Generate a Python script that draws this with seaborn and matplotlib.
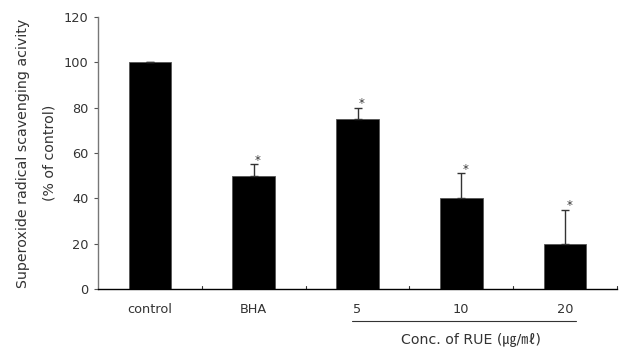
import matplotlib
matplotlib.use("Agg")
import matplotlib.pyplot as plt
import seaborn as sns
import pandas as pd

categories = ["control", "BHA", "5", "10", "20"]
values = [100, 50, 75, 40, 20]
errors = [0, 5, 5, 11, 15]
significant = [False, True, True, True, True]
yticks = [0, 20, 40, 60, 80, 100, 120]

sns.set_theme(style="white")
plt.rcParams["font.family"] = ["DejaVu Sans", "Noto Sans CJK KR"]

FS = 9.3
TC = "#333333"

df = pd.DataFrame({"cat": categories, "val": values})

fig = plt.figure(figsize=(6.21, 3.49), dpi=100)
ax = fig.add_axes([98/621, 1-289/349, (617-98)/621, (289-17)/349])

sns.barplot(data=df, x="cat", y="val", color="black", width=0.41, ax=ax,
            edgecolor="#555555", linewidth=0.6, errorbar=None)

xs = list(range(len(categories)))
ax.errorbar(xs, values, yerr=[[0]*len(errors), errors], fmt="none",
            ecolor="#333333", elinewidth=1.0, capsize=3, capthick=1.0)
for x, v, e, s in zip(xs, values, errors, significant):
    if s:
        ax.text(x + 0.04, v + e - 1.0, "*", ha="center", va="bottom",
                fontsize=8.5, color=TC)

ax.set_xlim(-0.5, len(categories) - 0.5)
ax.set_ylim(0, 120)
ax.set_yticks(yticks)
ax.set_yticklabels([str(t) for t in yticks], fontsize=FS, color=TC)
ax.set_xticks(xs)
ax.set_xticklabels(categories, fontsize=FS, color=TC)
ax.tick_params(axis="x", length=0, pad=10)
ax.tick_params(axis="y", length=3, width=0.8, color="#555555", direction="out", pad=4, left=True)
for b in [0.5, 1.5, 2.5, 3.5, 4.5]:
    ax.plot([b, b], [0, 1.5], color="#333333", lw=0.8, clip_on=False)

for side in ["top", "right"]:
    ax.spines[side].set_visible(False)
ax.spines["left"].set_color("#777777")
ax.spines["left"].set_linewidth(1.0)
ax.spines["bottom"].set_color("black")
ax.spines["bottom"].set_linewidth(1.0)

ax.set_xlabel("")
ax.set_ylabel("Superoxide radical scavenging acivity\n(% of control)",
              fontsize=10.2, color=TC, labelpad=5, linespacing=2.1)

# group line and label
fig.add_artist(plt.Line2D([352/621, 576/621], [1-321/349, 1-321/349],
                          color="#333333", lw=0.8))
fig.text(471/621, 1-340/349, "Conc. of RUE (㎍/㎖)", ha="center", va="center",
         fontsize=10.2, color=TC)

fig.savefig("out.png", dpi=100)
